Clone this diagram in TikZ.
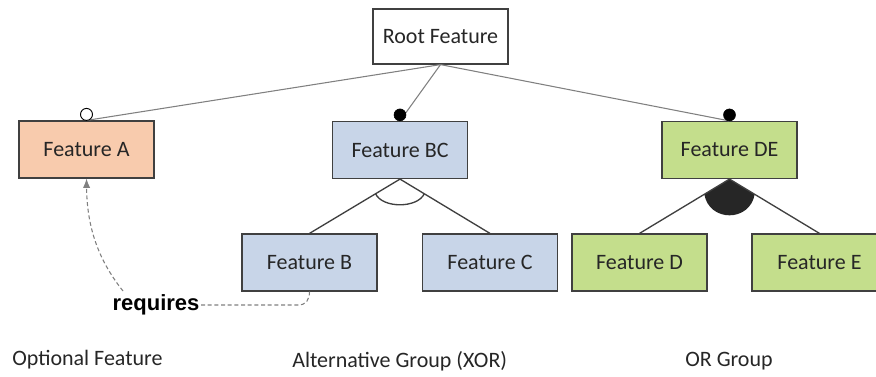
\documentclass[tikz,border=0pt]{standalone}
\usepackage{fontspec}
\setmainfont{Carlito}
\newfontfamily\reqfont{Liberation Sans}
\usetikzlibrary{positioning,calc,arrows.meta}

\definecolor{featA}{RGB}{248,203,173}
\definecolor{featBC}{RGB}{200,213,232}
\definecolor{featDE}{RGB}{196,222,140}
\definecolor{boxline}{RGB}{64,64,64}
\definecolor{rootline}{RGB}{128,128,128}
\definecolor{txtgray}{RGB}{38,38,38}

\tikzset{
  feat/.style={draw=boxline, line width=0.9pt, minimum width=101.25pt, minimum height=42.75pt,
    inner sep=0pt, font=\fontsize{16.5}{19}\selectfont, text=txtgray},
  caption/.style={font=\fontsize{16.5}{19}\selectfont, text=txtgray, inner sep=0pt},
  rootedge/.style={draw=rootline, line width=0.8pt},
  childedge/.style={draw=boxline, line width=1pt},
  reqedge/.style={draw=gray, line width=0.8pt, dash pattern=on 3pt off 2pt},
  optdot/.style={draw=black, fill=white, line width=0.7pt},
  mandot/.style={draw=black, fill=black}
}

\begin{document}
\begin{tikzpicture}[x=0.75pt,y=0.75pt,yscale=-1,xscale=1]
\useasboundingbox (0,0) rectangle (876,376);
\clip (0,0) rectangle (876,376);

%Features
\node[feat, fill=white, minimum height=41.25pt] (root) at (440.5,36.5) {Root Feature};
\node[feat, fill=featA] (fa) at (86.5,149.5) {Feature A};
\node[feat, fill=featBC] (fbc) at (400,150) {Feature BC};
\node[feat, fill=featDE] (fde) at (729.5,150) {Feature DE};
\node[feat, fill=featBC] (fb) at (309.5,262.5) {Feature B};
\node[feat, fill=featBC] (fc) at (490,262.5) {Feature C};
\node[feat, fill=featDE] (fd) at (639.5,262.5) {Feature D};
\node[feat, fill=featDE] (fe) at (819.5,262.5) {Feature E};

%Root edges
\draw[rootedge] (root.south) -- (fa.north);
\draw[rootedge] (root.south) -- (fbc.north);
\draw[rootedge] (root.south) -- (fde.north);
\draw[optdot] ($(fa.north)+(0,-6)$) circle (6);
\draw[mandot] ($(fbc.north)+(0,-6)$) circle (6);
\draw[mandot] ($(fde.north)+(0,-6)$) circle (6);

%Alternative group
\draw[childedge] (fbc.south) -- (fb.north);
\draw[childedge] (fbc.south) -- (fc.north);
\draw[childedge] ($(fbc.south)!0.27!(fb.north)$) .. controls +(7,14.7) and +(-7,14.7) .. ($(fbc.south)!0.27!(fc.north)$);

%Or group
\fill[black!85] (fde.south) -- ($(fde.south)!0.28!(fd.north)$) .. controls +(5,28) and +(-5,28) .. ($(fde.south)!0.28!(fe.north)$) -- cycle;
\draw[childedge] (fde.south) -- (fd.north);
\draw[childedge] (fde.south) -- (fe.north);

%Requires
\node[font=\reqfont\bfseries\fontsize{16.5}{19}\selectfont, inner sep=1pt] (req) at (156,305) {requires};
\coordinate (reqtop) at (123,291);
\draw[reqedge] (req.east) -- (298,305) .. controls (306,305) and (309.5,300) .. (fb.south);
\draw[reqedge, -{Latex[length=7pt, width=5.5pt]}] (reqtop) .. controls (100,262) and (87,230) .. (fa.south);

%Captions
\node[caption, anchor=west] (capa) at (12,360) {Optional Feature};
\node[caption, anchor=west] (capb) at (292,361) {Alternative Group (XOR)};
\node[caption, anchor=west] (capc) at (685,361) {OR Group};
\end{tikzpicture}
\end{document}
